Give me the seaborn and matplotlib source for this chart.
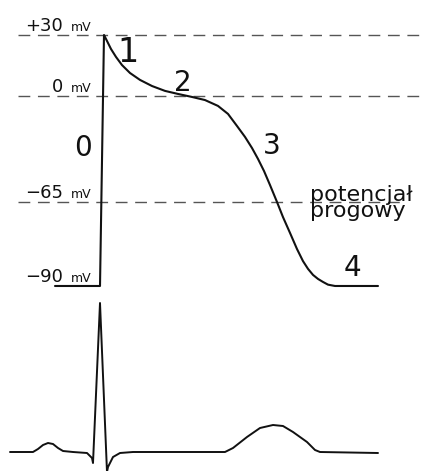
import numpy as np
import pandas as pd
import matplotlib
matplotlib.use("Agg")
import matplotlib.pyplot as plt
import seaborn as sns

# ---- action potential of a ventricular myocyte (time in ms, membrane potential in mV)
ap_time = [-45, 0, 4, 7, 11, 16, 22, 30, 40, 52, 65, 78, 92, 105, 118, 128,
           137, 145, 152, 158, 164, 170, 177, 183, 190, 197, 203, 208, 213,
           218, 223, 228, 235, 243, 278]
ap_mv = [-90, -90, 30, 27.05, 23.1, 19.2, 15.2, 11.3, 7.9, 4.9, 2.5, 1.0, -0.6,
         -2.5, -6.1, -11.0, -18.4, -25.1, -31.9, -38.6, -46.0, -54.6, -65.0,
         -69.5, -74.2, -79.0, -82.6, -84.9, -86.7, -87.9, -88.8, -89.6, -90,
         -90, -90]

# reference levels drawn as dashed lines and their labels
level_mv = [30, 0, -65]
label_mv = [30, 0, -65, -90]
label_num = ["+30", "0", "\u221265", "\u221290"]
label_unit = "mV"

# phase numbers of the action potential
phase_text = ["0", "1", "2", "3", "4"]
phase_time = [-17, 28, 83, 172, 252]
phase_mv = [-31.9, 21.6, 6.4, -30.5, -84.6]
threshold_text = "potencjał\nprogowy"

# ---- surface ECG of the same beat (time in ms, amplitude in mV)
ecg_time = [-90, -67, -62, -57, -52, -47, -42, -37, -27, -13, -8, -7, 0, 7, 8,
            13, 20, 33, 125, 133, 147, 160, 173, 183, 193, 207, 215, 220, 278]
ecg_mv = [0, 0, 0.03, 0.07, 0.09, 0.08, 0.04, 0.01, 0, -0.01, -0.06, -0.11,
          1.49, -0.20, -0.15, -0.05, -0.01, 0, 0, 0.04, 0.15, 0.24, 0.27, 0.26,
          0.20, 0.10, 0.02, 0, -0.01]

ap = pd.DataFrame({"t": ap_time, "v": ap_mv})
ecg = pd.DataFrame({"t": ecg_time, "v": ecg_mv})

sns.set_style("white")
plt.rcParams["font.family"] = ["DejaVu Sans"]

W, H = 427, 471
fig = plt.figure(figsize=(W / 100, H / 100), dpi=100)
fig.patch.set_facecolor("white")

ink = "#111111"
dash_col = "#555555"
xlim = (-100, 327)

# schematic (non-linear) voltage axis: the labelled levels are not equally spaced
mv_knots = np.array([-100, -90, -65, 0, 30, 60], dtype=float)
pos_knots = np.array([319.6, 286, 202, 96, 35, -26], dtype=float)


def fwd(v):
    return -np.interp(v, mv_knots, pos_knots)


def inv(y):
    return np.interp(-np.asarray(y), pos_knots[::-1], mv_knots[::-1])


ax = fig.add_axes([0, 171 / H, 1, 300 / H])
ax.set_yscale("function", functions=(fwd, inv))
ax.set_xlim(*xlim)
ax.set_ylim(-94.17, 47.2)
ax.patch.set_alpha(0)
ax.axis("off")

for lv in level_mv:
    x1 = 420 / W if lv != -65 else 403 / W
    ax.axhline(lv, xmin=18 / W, xmax=x1, color=dash_col, lw=1.0,
               dashes=(8.5, 5.5), zorder=1)

sns.lineplot(data=ap, x="t", y="v", sort=False, estimator=None, ax=ax,
             color=ink, lw=1.5, zorder=3)

for v, num in zip(label_mv, label_num):
    ax.annotate(num, (-37, v), xytext=(0, 3), textcoords="offset points",
                ha="right", va="baseline", fontsize=13, color=ink)
    ax.annotate(label_unit, (-29, v), xytext=(0, 3), textcoords="offset points",
                ha="left", va="baseline", fontsize=9, color=ink)

for txt, t, v in zip(phase_text, phase_time, phase_mv):
    ax.text(t, v, txt, ha="center", va="center",
            fontsize=24 if txt == "1" else 20, color=ink)

# two-line label: its last line's baseline sits below the threshold line
ax.annotate(threshold_text, (210, -65), xytext=(0, -10.8), textcoords="offset points",
            ha="left", va="baseline", fontsize=16, color=ink, linespacing=0.78)

# ECG trace
ax2 = fig.add_axes([0, 0, 1, 181 / H])
ax2.set_xlim(*xlim)
ax2.set_ylim(-0.19, 1.62)
ax2.patch.set_alpha(0)
ax2.axis("off")
sns.lineplot(data=ecg, x="t", y="v", sort=False, estimator=None, ax=ax2,
             color=ink, lw=1.4)

fig.savefig("out.png", dpi=100, facecolor="white")
